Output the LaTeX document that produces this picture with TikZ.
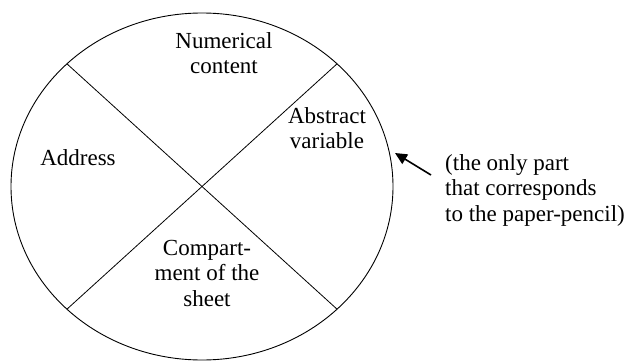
\documentclass[tikz,border=0pt]{standalone}
\usepackage{fontspec}
\setmainfont{Liberation Serif}
\usetikzlibrary{arrows.meta}
\begin{document}
\begin{tikzpicture}[x=1pt,y=-1pt,
  lbl/.style={inner sep=0pt,align=center,font=\fontsize{23}{25.5}\selectfont},
  note/.style={inner sep=0pt,align=left,font=\fontsize{23}{25.5}\selectfont},
  ptr/.style={line width=1.6pt,-{Triangle[length=12pt,width=11pt]}}]
\useasboundingbox (0,0) rectangle (627,361);
\draw[line width=0.9pt] (202,186.5) ellipse [x radius=191, y radius=173.5];
\coordinate (tl) at ({202+191*cos(135)},{186.5-173.5*sin(135)});
\coordinate (br) at ({202+191*cos(-45)},{186.5-173.5*sin(-45)});
\coordinate (tr) at ({202+191*cos(45)},{186.5-173.5*sin(45)});
\coordinate (bl) at ({202+191*cos(-135)},{186.5-173.5*sin(-135)});
\draw[line width=0.8pt] (tl) -- (br);
\draw[line width=0.8pt] (tr) -- (bl);
\node[lbl] (num) at (224,53) {Numerical\\content};
\node[lbl] (abs) at (327,128) {Abstract\\variable};
\node[lbl] (adr) at (78,158) {Address};
\node[lbl] (cmp) at (207,273) {Compart-\\ment of the\\sheet};
\node[note,anchor=west] (nt) at (445,190) {(the only part\\that corresponds\\to the paper-pencil)};
\coordinate (tip) at (395,153);
\coordinate (tail) at (431,175);
\draw[ptr] (tail) -- (tip);
\end{tikzpicture}
\end{document}
